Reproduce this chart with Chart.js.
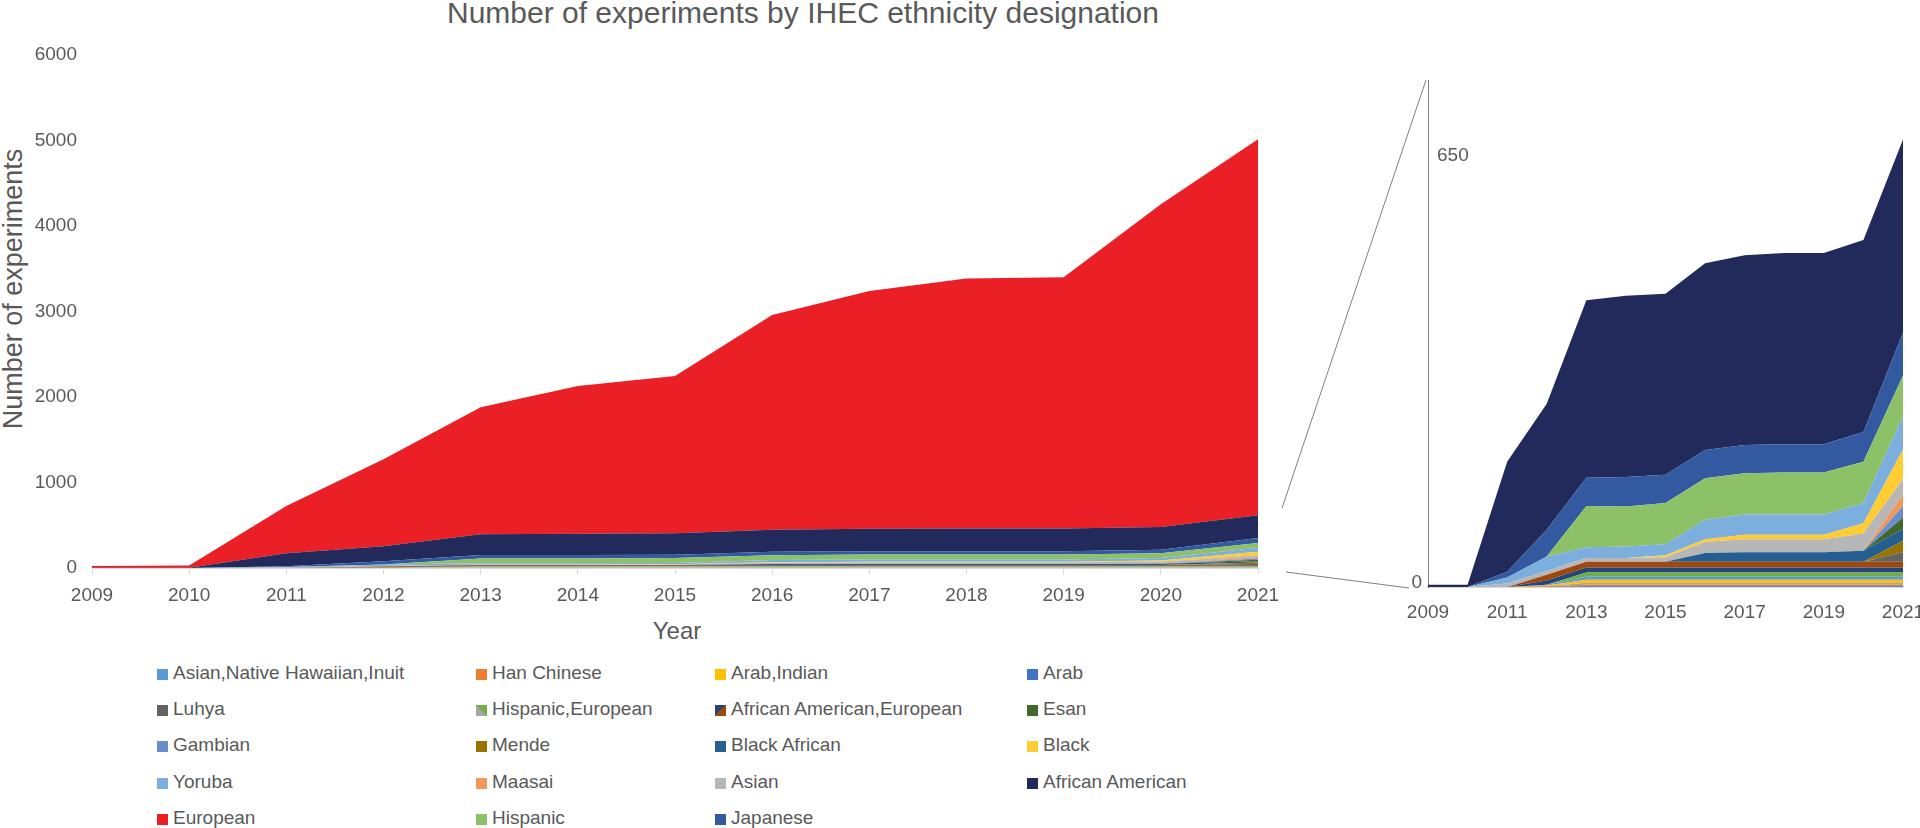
<!DOCTYPE html>
<html>
<head>
<meta charset="utf-8">
<script src="https://cdn.jsdelivr.net/npm/chart.js@4.4.1/dist/chart.umd.min.js"></script>
<style>
  html, body { margin: 0; padding: 0; background: #fff; }
  body { width: 1920px; height: 828px; overflow: hidden; position: relative;
         font-family: "Liberation Sans", Arial, sans-serif; color: #595959; }
  #title { position: absolute; left: 0; top: -5px; width: 1606px; height: 36px; line-height: 36px;
           text-align: center; font-size: 30px; }
  #ytitle { position: absolute; left: 13px; top: 289px; width: 400px; height: 32px; line-height: 32px;
            text-align: center; font-size: 27px; transform: translate(-50%, -50%) rotate(-90deg); }
  #xtitle { position: absolute; left: 677px; top: 631px; transform: translate(-50%, -50%);
            font-size: 24px; line-height: 30px; }
  #main { position: absolute; left: 0; top: 0; }
  #inset { position: absolute; left: 1270px; top: 40px; }
  .leg { position: absolute; font-size: 19px; line-height: 24px; white-space: nowrap;
         transform: translateY(-50%); }
  .sw { position: absolute; left: 0; top: 8px; width: 11px; height: 11px; }
  .leg span.t { margin-left: 16px; }
</style>
</head>
<body>
<div id="title">Number of experiments by IHEC ethnicity designation</div>
<div id="ytitle">Number of experiments</div>
<div id="xtitle">Year</div>
<canvas id="main" width="1300" height="640"></canvas>
<canvas id="inset" width="680" height="600"></canvas>
<div id="legend"></div>
<script>
// years on the x axis
const years = ['2009', '2010', '2011', '2012', '2013', '2014', '2015', '2016', '2017', '2018', '2019', '2020', '2021'];

// series in stacking order, bottom to top
const seriesNames = [
  'Arab', 'Han Chinese', 'Hispanic,European', 'Arab,Indian', 'Asian,Native Hawaiian,Inuit',
  'Hispanic,European', 'African American,European', 'African American,European',
  'Luhya', 'Mende', 'Black African', 'Esan', 'Gambian', 'Maasai', 'Asian', 'Black',
  'Yoruba', 'Hispanic', 'Japanese', 'African American', 'European'
];
const seriesColors = [
  '#4472C4', '#ED7D31', '#A5A5A5', '#FFC000', '#5B9BD5',
  '#70AD47', '#264478', '#9E480E',
  '#636363', '#997300', '#255E91', '#43682B', '#698ED0', '#F1975A', '#B7B7B7', '#FFCD33',
  '#7CAFDD', '#8CC168', '#335AA1', '#212A5B', '#EB1F26'
];

// values per year (2009 .. 2021)
const arab         = [0, 0, 0, 0, 1, 1, 1, 1, 1, 1, 1, 1, 1];
const hanChinese   = [0, 0, 0, 1, 2, 2, 2, 2, 2, 2, 2, 2, 2];
const hispEuroGray = [0, 0, 0, 0, 3, 3, 3, 3, 3, 3, 3, 3, 3];
const arabIndian   = [0, 0, 0, 1, 4, 4, 4, 4, 4, 4, 4, 4, 4];
const asianNHI     = [0, 0, 0, 1, 4, 4, 4, 4, 4, 4, 4, 4, 4];
const hispEuroGrn  = [0, 0, 0, 0, 6, 6, 6, 6, 6, 6, 6, 6, 6];
const afAmEuroNavy = [0, 0, 0, 6, 7, 7, 7, 7, 7, 7, 7, 7, 7];
const afAmEuroBrn  = [0, 0, 0, 8, 8, 8, 8, 8, 8, 8, 8, 8, 8];
const luhya        = [0, 0, 0, 0, 0, 0, 0, 0, 0, 0, 0, 0, 13];
const mende        = [0, 0, 0, 0, 0, 0, 0, 0, 0, 0, 0, 0, 16];
const blackAfrican = [0, 0, 0, 0, 0, 0, 0, 12, 13, 13, 13, 15, 16];
const esan         = [0, 0, 0, 0, 0, 0, 0, 0, 0, 0, 0, 0, 16];
const gambian      = [0, 0, 0, 0, 0, 0, 0, 0, 0, 0, 0, 0, 16];
const maasai       = [0, 0, 0, 0, 0, 0, 0, 0, 0, 0, 0, 0, 16];
const asian        = [0, 0, 5, 5, 5, 5, 6, 15, 18, 18, 18, 24, 21];
const black        = [0, 0, 0, 0, 0, 0, 3, 4, 6, 6, 6, 14, 41];
const yoruba       = [0, 0, 8, 20, 15, 16, 15, 27, 28, 28, 28, 28, 46];
const hispanic     = [0, 0, 0, 0, 57, 55, 57, 57, 57, 58, 58, 57, 56];
const japanese     = [0, 0, 8, 37, 39, 41, 39, 39, 39, 39, 39, 41, 59];
const africanAm    = [3, 3, 152, 174, 245, 250, 250, 258, 262, 264, 264, 265, 267];
const european     = [20, 25, 552, 1018, 1483, 1727, 1840, 2511, 2782, 2924, 2941, 3776, 4396];

const seriesValues = [
  arab, hanChinese, hispEuroGray, arabIndian, asianNHI, hispEuroGrn, afAmEuroNavy, afAmEuroBrn,
  luhya, mende, blackAfrican, esan, gambian, maasai, asian, black,
  yoruba, hispanic, japanese, africanAm, european
];

// legend reading order (row by row)
const legendOrder = [
  'Asian,Native Hawaiian,Inuit', 'Han Chinese', 'Arab,Indian', 'Arab',
  'Luhya', 'Hispanic,European', 'African American,European', 'Esan',
  'Gambian', 'Mende', 'Black African', 'Black',
  'Yoruba', 'Maasai', 'Asian', 'African American',
  'European', 'Hispanic', 'Japanese'
];

Chart.defaults.font.family = '"Liberation Sans", Arial, sans-serif';
Chart.defaults.color = '#595959';

function makeDatasets(count) {
  const out = [];
  for (let i = 0; i < count; i++) {
    out.push({
      label: seriesNames[i],
      data: seriesValues[i],
      backgroundColor: seriesColors[i],
      borderColor: 'rgba(0,0,0,0)',
      borderWidth: 0,
      pointRadius: 0,
      tension: 0,
      fill: i === 0 ? 'origin' : '-1'
    });
  }
  return out;
}

const mainChart = new Chart(document.getElementById('main'), {
  type: 'line',
  data: { labels: years, datasets: makeDatasets(seriesNames.length) },
  options: {
    responsive: false,
    animation: false,
    devicePixelRatio: 1,
    layout: { padding: { top: 55, right: 42, left: 0, bottom: 0 } },
    plugins: { legend: { display: false }, tooltip: { enabled: false } },
    scales: {
      x: {
        grid: { display: true, drawOnChartArea: false, drawTicks: true, tickLength: 6, color: '#d9d9d9' },
        border: { display: true, color: '#d9d9d9' },
        ticks: { font: { size: 19 }, padding: 10, maxRotation: 0, autoSkip: false },
        afterFit: s => { s.height = 72; }
      },
      y: {
        stacked: true,
        min: 0,
        max: 6000,
        grid: { display: false, drawTicks: false },
        border: { display: false },
        ticks: { stepSize: 1000, font: { size: 19 }, padding: 15, callback: v => String(v) },
        afterFit: s => { s.width = 92; }
      }
    }
  }
});

const insetLeft = 1270, insetTop = 40;

const insetExtras = {
  id: 'insetExtras',
  afterDraw(chart) {
    const ctx = chart.ctx, a = chart.chartArea, ys = chart.scales.y;
    ctx.save();
    ctx.fillStyle = '#595959';
    ctx.font = '19px "Liberation Sans", Arial, sans-serif';
    ctx.textBaseline = 'middle';
    ctx.textAlign = 'right';
    ctx.fillText('0', a.left - 6, ys.getPixelForValue(0) - 4);
    ctx.textAlign = 'left';
    ctx.fillText('650', a.left + 9, ys.getPixelForValue(650) + 40);

    // zoom connector lines from the main chart to the inset
    const m = mainChart.chartArea, my = mainChart.scales.y;
    ctx.strokeStyle = '#7f7f7f';
    ctx.lineWidth = 1;
    ctx.beginPath();
    ctx.moveTo(m.right + 24 - insetLeft, my.getPixelForValue(ys.max) - insetTop);
    ctx.lineTo(a.left - 2, a.top);
    ctx.moveTo(m.right + 28 - insetLeft, my.getPixelForValue(0) + 4 - insetTop);
    ctx.lineTo(a.left - 19, ys.getPixelForValue(0) + 1);
    ctx.stroke();
    ctx.restore();
  }
};

new Chart(document.getElementById('inset'), {
  type: 'line',
  data: { labels: years, datasets: makeDatasets(seriesNames.length - 1) },
  options: {
    responsive: false,
    animation: false,
    devicePixelRatio: 1,
    layout: { padding: { top: 40, right: 47, left: 0, bottom: 0 } },
    plugins: { legend: { display: false }, tooltip: { enabled: false } },
    scales: {
      x: {
        grid: { display: false, drawTicks: false },
        border: { display: true, color: '#d9d9d9', width: 2 },
        ticks: {
          font: { size: 19 }, padding: 14, maxRotation: 0, autoSkip: false,
          callback: (v, i) => (i % 2 === 0 ? years[i] : '')
        },
        afterFit: s => { s.height = 53; }
      },
      y: {
        stacked: true,
        min: 0,
        max: 700,
        grid: { display: false, drawTicks: false },
        border: { display: true, color: '#808080', width: 1 },
        ticks: { display: false },
        afterFit: s => { s.width = 158; }
      }
    }
  },
  plugins: [insetExtras]
});

// legend grid
const legendCols = [157, 476, 715, 1027];
const legendRow0 = 672.5, legendRowGap = 36.4;
const splitDirection = { 'Hispanic,European': 'to top right', 'African American,European': 'to bottom right' };
const legendBox = document.getElementById('legend');
legendOrder.forEach((name, k) => {
  const cols = [];
  seriesNames.forEach((n, i) => { if (n === name) cols.push(seriesColors[i]); });
  const item = document.createElement('div');
  item.className = 'leg';
  item.style.left = legendCols[k % 4] + 'px';
  item.style.top = (legendRow0 + Math.floor(k / 4) * legendRowGap) + 'px';
  const sw = document.createElement('span');
  sw.className = 'sw';
  sw.style.background = cols.length > 1
    ? 'linear-gradient(' + splitDirection[name] + ', ' + cols[0] + ' 50%, ' + cols[1] + ' 50%)'
    : cols[0];
  const t = document.createElement('span');
  t.className = 't';
  t.textContent = name;
  item.appendChild(sw);
  item.appendChild(t);
  legendBox.appendChild(item);
});
</script>
</body>
</html>
